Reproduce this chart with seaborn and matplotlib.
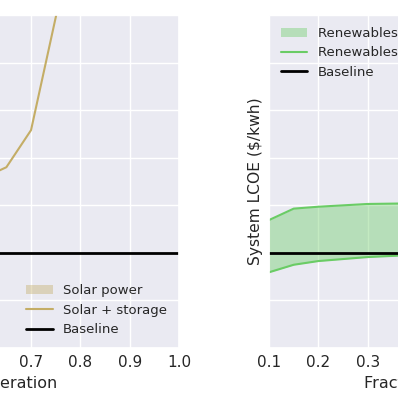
import numpy as np
import pandas as pd
import matplotlib
matplotlib.use('Agg')
import matplotlib.pyplot as plt
import seaborn as sns

# данные (оценка по картинке)
baseline = 0.1

solar_x = [0.1, 0.2, 0.3, 0.4, 0.5, 0.6]
solar_low = [0.095, 0.1, 0.11, 0.12, 0.135, 0.15]
solar_high = [0.11, 0.12, 0.13, 0.145, 0.16, 0.18]

storage_x = [0.6, 0.65, 0.7, 0.8]
storage_y = [0.178, 0.19, 0.229, 0.466]

renew_x = [0.1, 0.15, 0.2, 0.3, 0.4]
renew_low = [0.0796, 0.0875, 0.0914, 0.0956, 0.098]
renew_high = [0.1345, 0.1465, 0.1485, 0.1514, 0.1521]

sns.set_theme(style='darkgrid', rc={'xtick.major.size': 0, 'ytick.major.size': 0,
                                    'xtick.major.pad': 5, 'ytick.major.pad': 5,
                                    'axes.labelsize': 11.5, 'legend.fontsize': 9.5,
                                    'legend.frameon': False})
tan = '#C4AD66'    # старая палитра muted
green = '#6ACC65'

fig = plt.figure(figsize=(3.98, 3.98), dpi=100)
# оси шире картинки: видна только часть исходной фигуры
ax1 = fig.add_axes([-0.666, 0.1256, 1.116, 0.8367])
ax2 = fig.add_axes([0.676, 0.1256, 1.116, 0.8367])

# левый график: солнце
ax1.fill_between(solar_x, solar_low, solar_high, color=tan, alpha=0.4, lw=0, label='Solar power')
sns.lineplot(x=storage_x, y=storage_y, ax=ax1, color=tan, lw=1.5, label='Solar + storage')
ax1.axhline(baseline, color='black', lw=2, label='Baseline')
ax1.set_xlabel('Fraction solar generation')
ax1.legend(loc='lower right')

# правый график: возобновляемые
ax2.fill_between(renew_x, renew_low, renew_high, color=green, alpha=0.4, lw=0, label='Renewables power')
sns.lineplot(x=renew_x, y=renew_high, ax=ax2, color=green, lw=1.5, label='Renewables + storage')
sns.lineplot(x=renew_x, y=renew_low, ax=ax2, color=green, lw=1.5)
ax2.axhline(baseline, color='black', lw=2, label='Baseline')
ax2.set_xlabel('Fraction renewables generation')
ax2.set_ylabel('System LCOE ($/kwh)', fontsize=11.2)
ax2.legend(loc='upper left')

for ax in (ax1, ax2):
    ax.set_xlim(0.1, 1.0)
    ax.set_ylim(0, 0.35)
    ax.set_xticks(np.arange(0.1, 1.01, 0.1))
    ax.set_yticks(np.arange(0, 0.351, 0.05))
ax2.tick_params(axis='y', labelleft=False)

fig.savefig('out.png', dpi=100)
